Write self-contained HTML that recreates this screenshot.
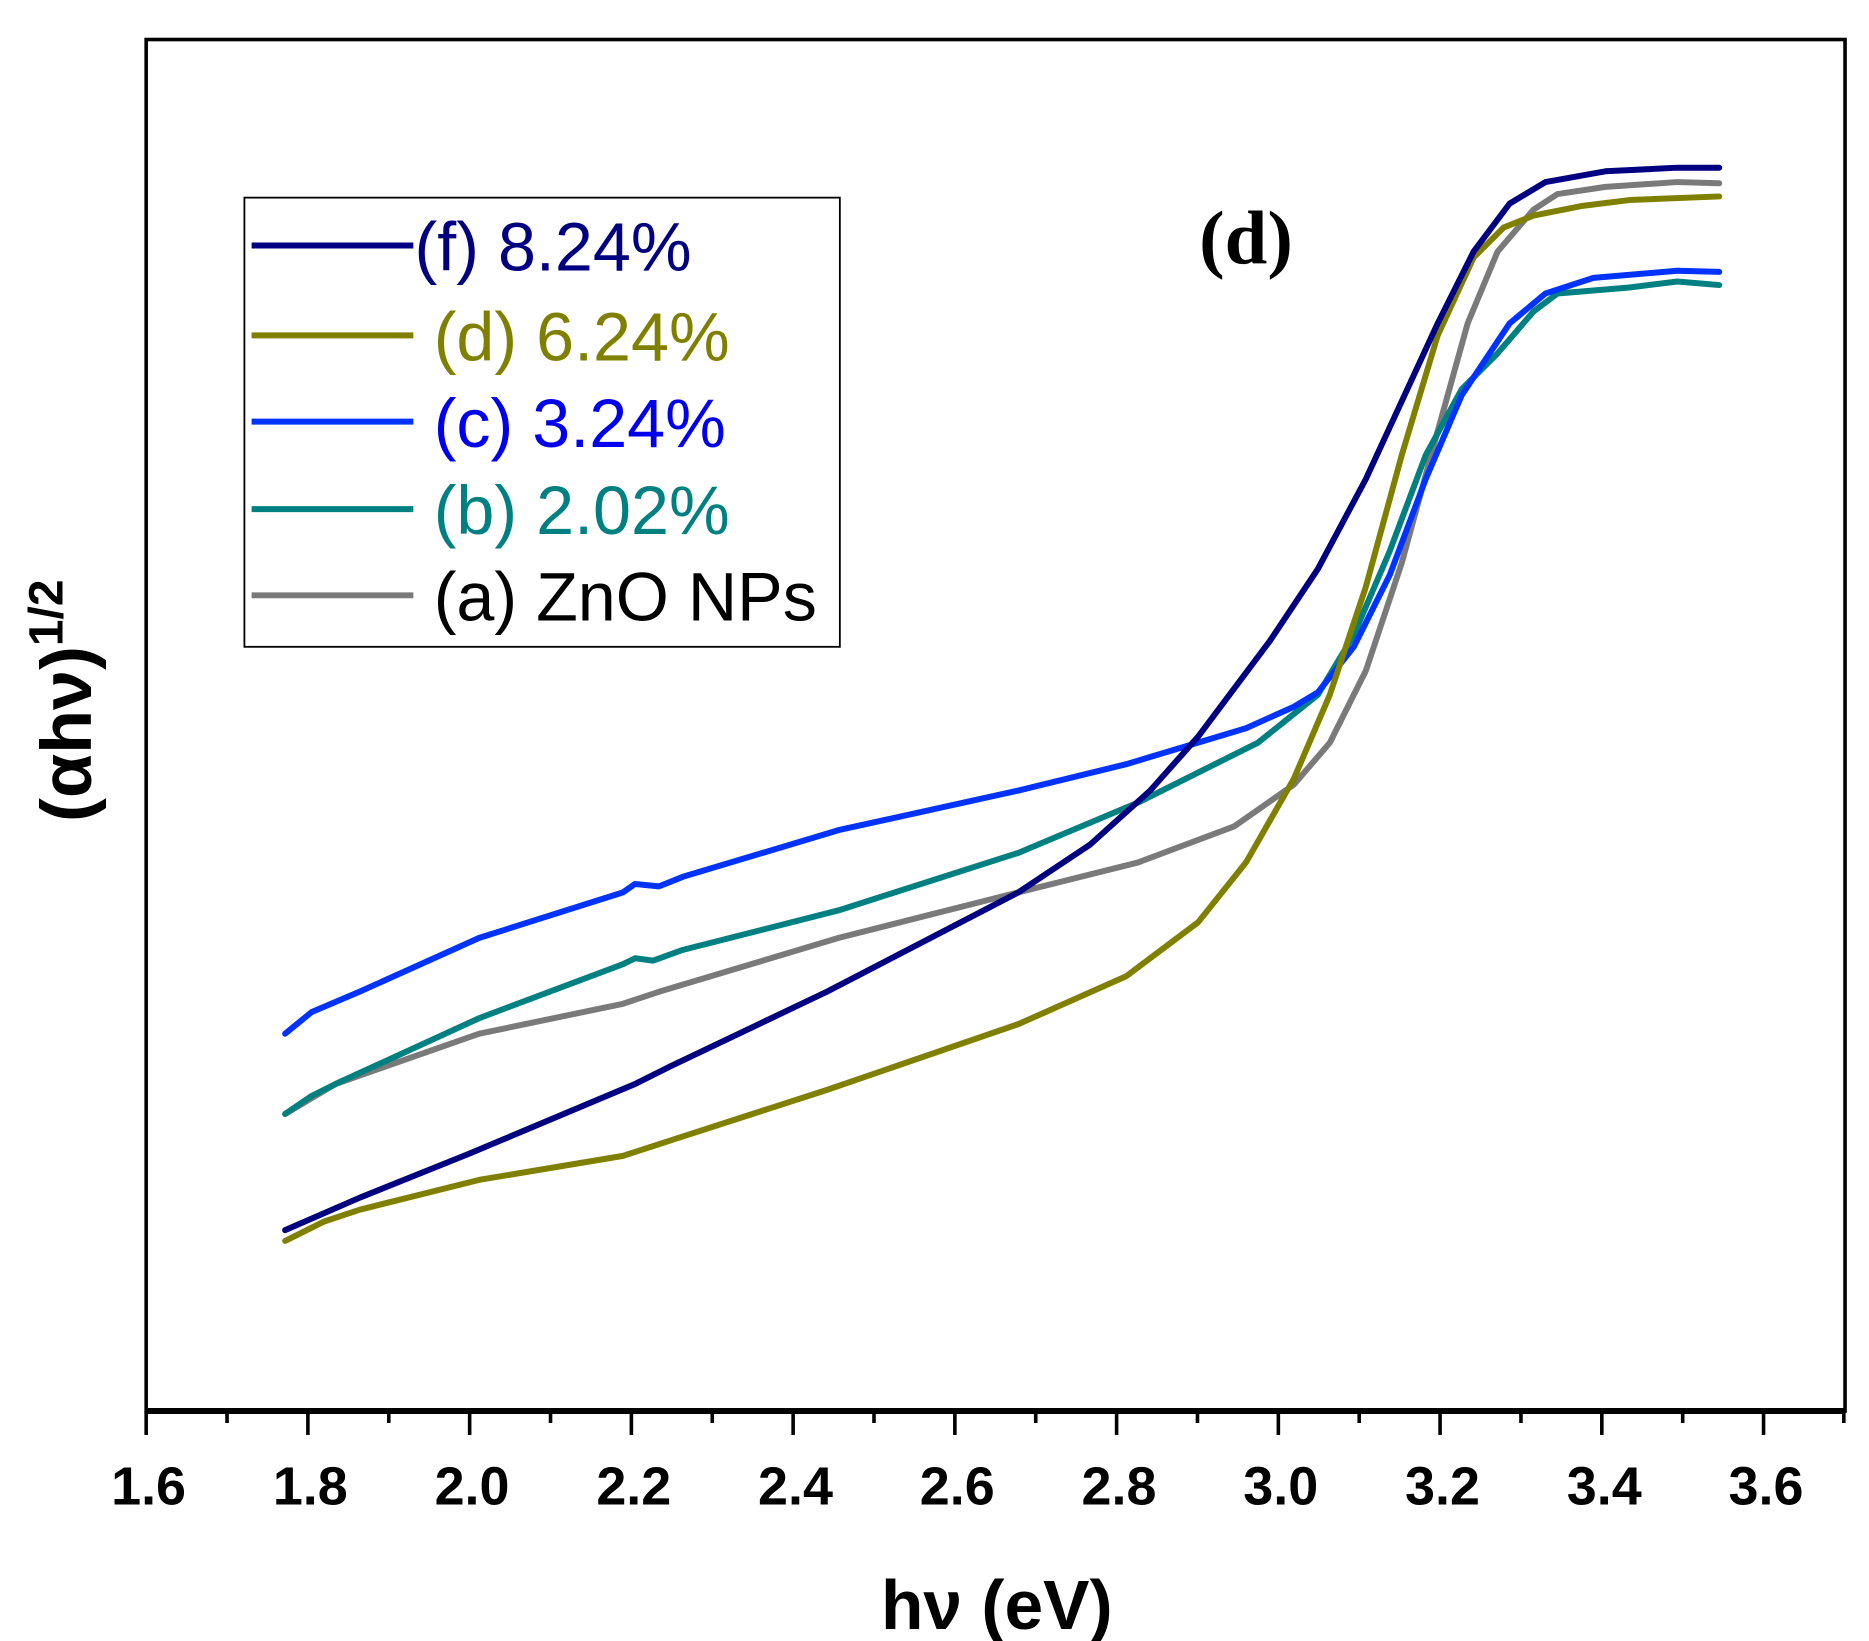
<!DOCTYPE html>
<html><head><meta charset="utf-8"><style>body{margin:0;background:#fff}svg{display:block}</style></head>
<body>
<svg width="1869" height="1641" viewBox="0 0 1560 1370" preserveAspectRatio="none" xmlns="http://www.w3.org/2000/svg">
<rect x="0" y="0" width="1560" height="1370" fill="#fff"/>
<rect x="122" y="33" width="1418" height="1145" fill="none" stroke="#000" stroke-width="3"/>
<line x1="122" y1="1178" x2="1540" y2="1178" stroke="#000" stroke-width="5"/>
<g stroke="#000" stroke-width="3">
<line x1="122" y1="1178" x2="122" y2="1198"/><line x1="189.5" y1="1178" x2="189.5" y2="1188"/>
<line x1="257" y1="1178" x2="257" y2="1198"/><line x1="324.5" y1="1178" x2="324.5" y2="1188"/>
<line x1="392" y1="1178" x2="392" y2="1198"/><line x1="459.5" y1="1178" x2="459.5" y2="1188"/>
<line x1="527" y1="1178" x2="527" y2="1198"/><line x1="594.5" y1="1178" x2="594.5" y2="1188"/>
<line x1="662" y1="1178" x2="662" y2="1198"/><line x1="729.5" y1="1178" x2="729.5" y2="1188"/>
<line x1="797" y1="1178" x2="797" y2="1198"/><line x1="864.5" y1="1178" x2="864.5" y2="1188"/>
<line x1="932" y1="1178" x2="932" y2="1198"/><line x1="999.5" y1="1178" x2="999.5" y2="1188"/>
<line x1="1067" y1="1178" x2="1067" y2="1198"/><line x1="1134.5" y1="1178" x2="1134.5" y2="1188"/>
<line x1="1202" y1="1178" x2="1202" y2="1198"/><line x1="1269.5" y1="1178" x2="1269.5" y2="1188"/>
<line x1="1337" y1="1178" x2="1337" y2="1198"/><line x1="1404.5" y1="1178" x2="1404.5" y2="1188"/>
<line x1="1472" y1="1178" x2="1472" y2="1198"/><line x1="1539" y1="1178" x2="1539" y2="1188"/>
</g>
<g font-family="Liberation Sans, sans-serif" font-weight="bold" font-size="45" text-anchor="middle">
<text x="124" y="1256">1.6</text><text x="259" y="1256">1.8</text><text x="394" y="1256">2.0</text>
<text x="529" y="1256">2.2</text><text x="664" y="1256">2.4</text><text x="799" y="1256">2.6</text>
<text x="934" y="1256">2.8</text><text x="1069" y="1256">3.0</text><text x="1204" y="1256">3.2</text>
<text x="1339" y="1256">3.4</text><text x="1474" y="1256">3.6</text>
</g>
<text x="832" y="1360" font-family="Liberation Sans, sans-serif" font-weight="bold" font-size="58" text-anchor="middle">hν (eV)</text>
<text transform="translate(76,585) rotate(-90)" font-family="Liberation Sans, sans-serif" font-weight="bold" font-size="60" text-anchor="middle">(αhν)<tspan dy="-24" font-size="40">1/2</tspan></text>
<text x="1040" y="220" font-family="Liberation Serif, serif" font-weight="bold" font-size="64" text-anchor="middle">(d)</text>
<g fill="none" stroke-width="5" stroke-linejoin="round" stroke-linecap="round">
<polyline stroke="#7a7a7a" points="238,930 280,905 400,863 520,838 550,828 700,783 850,745 950,720 1030,690 1080,655 1110,620 1140,560 1170,470 1200,360 1225,270 1250,210 1280,175 1300,162 1340,156 1400,152 1435,153"/>
<polyline stroke="#008080" points="238,930 260,915 280,905 400,850 520,805 530,800 545,802 570,793 700,760 850,712 950,670 1050,620 1100,580 1130,530 1160,460 1190,380 1220,325 1250,295 1280,260 1300,245 1360,240 1400,235 1435,238"/>
<polyline stroke="#0033ff" points="238,863 260,845 300,828 400,783 520,745 530,738 550,740 570,732 700,693 850,660 940,638 1040,608 1080,590 1100,578 1130,540 1160,480 1190,400 1220,330 1240,300 1260,270 1290,245 1330,232 1400,226 1435,227"/>
<polyline stroke="#808000" points="238,1036 270,1020 300,1010 400,985 520,965 560,952 690,910 850,855 940,815 1000,770 1040,720 1080,650 1110,580 1140,490 1170,380 1200,280 1230,215 1255,190 1280,180 1320,172 1360,167 1435,164"/>
<polyline stroke="#000080" points="238,1027 300,1000 392,963 530,905 560,890 690,828 850,745 910,705 960,660 1000,615 1060,535 1100,475 1140,400 1200,270 1230,210 1260,170 1290,152 1340,143 1400,140 1435,140"/>
</g>
<rect x="204" y="165" width="497" height="375" fill="#fff" stroke="#000" stroke-width="1.5"/>
<g stroke-width="5">
<line x1="210" y1="205" x2="345" y2="205" stroke="#000080"/>
<line x1="210" y1="280" x2="345" y2="280" stroke="#808000"/>
<line x1="210" y1="352" x2="345" y2="352" stroke="#0033ff"/>
<line x1="210" y1="425" x2="345" y2="425" stroke="#008080"/>
<line x1="210" y1="497" x2="345" y2="497" stroke="#7a7a7a"/>
</g>
<g font-family="Liberation Sans, sans-serif" font-size="57">
<text x="346" y="226" fill="#000080">(f) 8.24%</text>
<text x="362" y="301" fill="#808000">(d) 6.24%</text>
<text x="362" y="373" fill="#0000ee">(c) 3.24%</text>
<text x="362" y="446" fill="#008080">(b) 2.02%</text>
<text x="362" y="518" fill="#000">(a) ZnO NPs</text>
</g>
</svg>
</body></html>
